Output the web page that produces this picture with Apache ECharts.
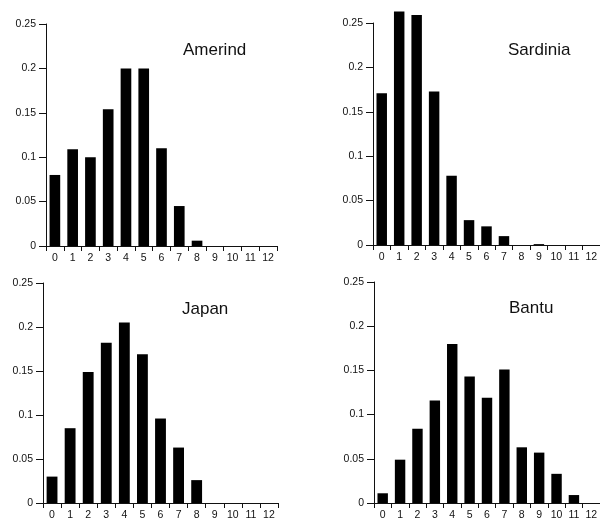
<!DOCTYPE html>
<html>
<head>
<meta charset="utf-8">
<script src="https://cdn.jsdelivr.net/npm/echarts@6/dist/echarts.min.js"></script>
<style>
  html, body { margin: 0; padding: 0; background: #fff; }
  #chart { width: 600px; height: 521px; }
</style>
</head>
<body>
<div id="chart"></div>
<script>
// number of repeats, 0..12
const categories = ['0', '1', '2', '3', '4', '5', '6', '7', '8', '9', '10', '11', '12']

// frequency per population
const amerind = [0.08, 0.109, 0.1, 0.154, 0.2, 0.2, 0.11, 0.045, 0.006, 0, 0, 0, 0]
const sardinia = [0.171, 0.263, 0.259, 0.173, 0.078, 0.028, 0.021, 0.01, 0, 0.001, 0, 0, 0]
const japan = [0.03, 0.085, 0.149, 0.182, 0.205, 0.169, 0.096, 0.063, 0.026, 0, 0, 0, 0]
const bantu = [0.011, 0.049, 0.084, 0.116, 0.18, 0.143, 0.119, 0.151, 0.063, 0.057, 0.033, 0.009, 0]

const panelNames = ['Amerind', 'Sardinia', 'Japan', 'Bantu']
const panelData = [amerind, sardinia, japan, bantu]

const yMin = 0
const yMax = 0.25
const yStep = 0.05

const font = 'Liberation Sans, Arial, Helvetica, sans-serif'
const ink = '#111'

// grid boxes in pixels, matched to the scanned figure
const grids = [
    { left: 46, top: 24, width: 231, height: 222 },
    { left: 373, top: 23, width: 234, height: 222 },
    { left: 43, top: 283, width: 235, height: 220 },
    { left: 374, top: 282, width: 234, height: 221 },
]
const titlePos = [[183, 50], [508, 50], [182, 309], [509, 308]]

let chart = echarts.init(document.getElementById('chart'), null, { renderer: 'canvas' })

let options = {
    animation: false,
    backgroundColor: '#fff',
    grid: grids.map(g => Object.assign({ containLabel: false }, g)),
    xAxis: grids.map((g, i) => ({
        type: 'category',
        gridIndex: i,
        data: categories,
        axisLine: { lineStyle: { color: ink, width: 1 } },
        axisTick: { show: true, length: 5, lineStyle: { color: ink } },
        axisLabel: { color: ink, fontFamily: font, fontSize: 10.5, margin: 7, interval: 0 },
        splitLine: { show: false },
    })),
    yAxis: grids.map((g, i) => ({
        type: 'value',
        gridIndex: i,
        min: yMin,
        max: yMax,
        interval: yStep,
        axisLine: { show: true, lineStyle: { color: ink, width: 1 } },
        axisTick: { show: true, length: 7, lineStyle: { color: ink } },
        axisLabel: { color: ink, fontFamily: font, fontSize: 10.5, margin: 10 },
        splitLine: { show: false },
    })),
    series: panelData.map((d, i) => ({
        type: 'bar',
        name: panelNames[i],
        xAxisIndex: i,
        yAxisIndex: i,
        data: d,
        barCategoryGap: '40%',
        clip: false,
        itemStyle: { color: '#000' },
    })),
    graphic: panelNames.map((name, i) => ({
        type: 'text',
        x: titlePos[i][0],
        y: titlePos[i][1],
        style: {
            text: name,
            fill: ink,
            font: '17px ' + font,
            textVerticalAlign: 'middle',
        },
    })),
}

chart.setOption(options)
</script>
</body>
</html>
